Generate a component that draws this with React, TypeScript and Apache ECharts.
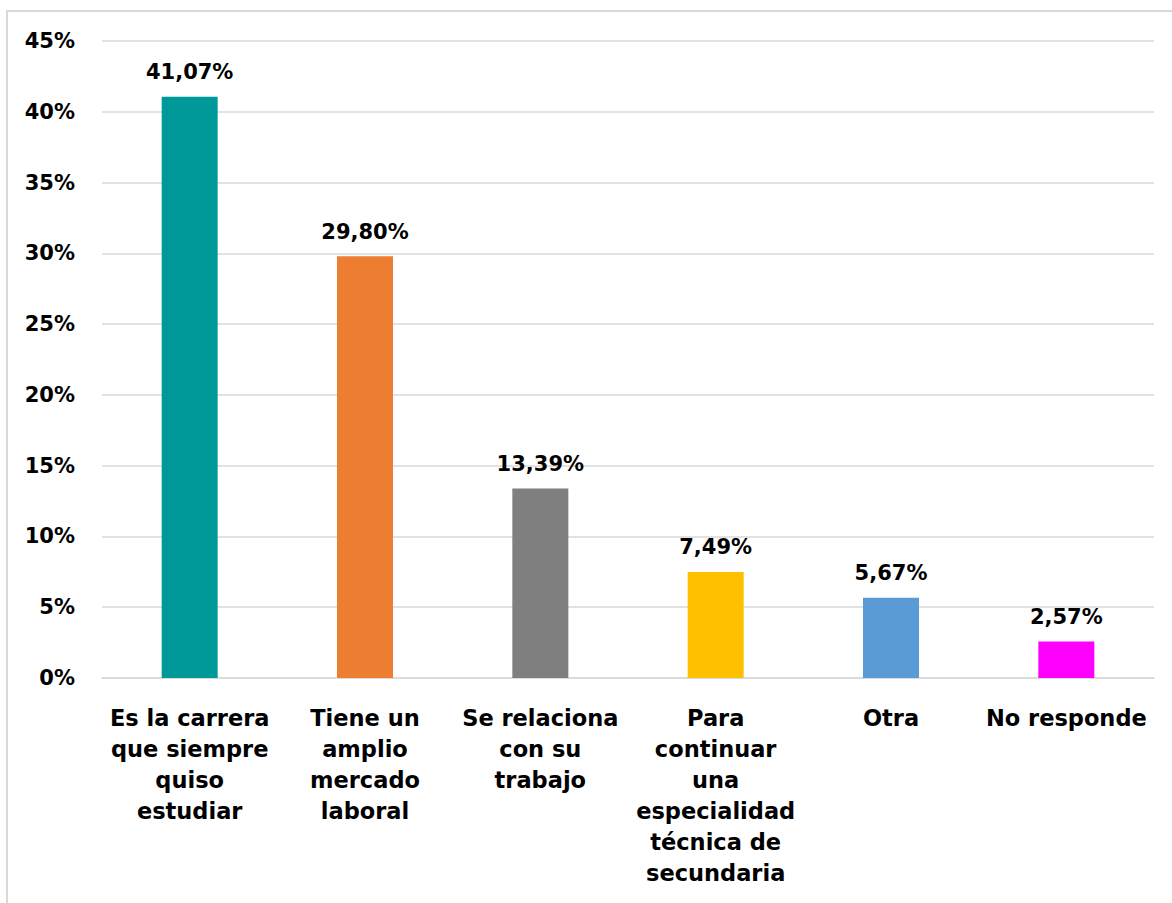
import React, { useEffect, useRef } from "react";
import * as echarts from "echarts";

const categories = [
  "Es la carrera\nque siempre\nquiso\nestudiar",
  "Tiene un\namplio\nmercado\nlaboral",
  "Se relaciona\ncon su\ntrabajo",
  "Para\ncontinuar\nuna\nespecialidad\ntécnica de\nsecundaria",
  "Otra",
  "No responde",
];
const values = [41.07, 29.8, 13.39, 7.49, 5.67, 2.57];
const colors = ["#009999", "#ED7D31", "#7F7F7F", "#FFC000", "#5B9BD5", "#FF00FF"];
const yTicks = { min: 0, max: 45, interval: 5 };

const FONT = "'Century Gothic', 'DejaVu Sans', sans-serif";

export default function App() {
  const ref = useRef<HTMLDivElement>(null);
  useEffect(() => {
    if (!ref.current) return;
    const chart = echarts.init(ref.current, null, { renderer: "svg" });
    chart.setOption({
      animation: false,
      backgroundColor: "#ffffff",
      textStyle: { fontFamily: FONT },
      graphic: [
        {
          type: "rect",
          shape: { x: 7, y: 11, width: 1175, height: 900 },
          style: { fill: "none", stroke: "#d9d9d9", lineWidth: 2 },
          silent: true,
        },
      ],
      grid: { left: 102, right: 18, top: 41, bottom: 225, containLabel: false },
      xAxis: {
        type: "category",
        data: categories,
        axisLine: { show: true, lineStyle: { color: "#d9d9d9", width: 1.5 } },
        axisTick: { show: false },
        axisLabel: {
          interval: 0,
          margin: 24,
          color: "#000000",
          fontFamily: FONT,
          fontWeight: "bold",
          fontSize: 22.5,
          lineHeight: 31,
          align: "center",
        },
      },
      yAxis: {
        type: "value",
        min: yTicks.min,
        max: yTicks.max,
        interval: yTicks.interval,
        axisLine: { show: false },
        axisTick: { show: false },
        splitLine: { lineStyle: { color: "#d9d9d9", width: 1.5 } },
        axisLabel: {
          formatter: "{value}%",
          margin: 27,
          color: "#000000",
          fontFamily: FONT,
          fontWeight: "bold",
          fontSize: 21,
        },
      },
      series: [
        {
          type: "bar",
          barWidth: 56,
          data: values.map((v, i) => ({ value: v, itemStyle: { color: colors[i] } })),
          label: {
            show: true,
            position: "top",
            distance: 14,
            color: "#000000",
            fontFamily: FONT,
            fontWeight: "bold",
            fontSize: 21,
            formatter: (p: any) => p.value.toFixed(2).replace(".", ",") + "%",
          },
        },
      ],
    });
    return () => chart.dispose();
  }, []);
  return (
    <div
      ref={ref}
      style={{ position: "fixed", left: 0, top: 0, width: 1172, height: 903 }}
    />
  );
}
